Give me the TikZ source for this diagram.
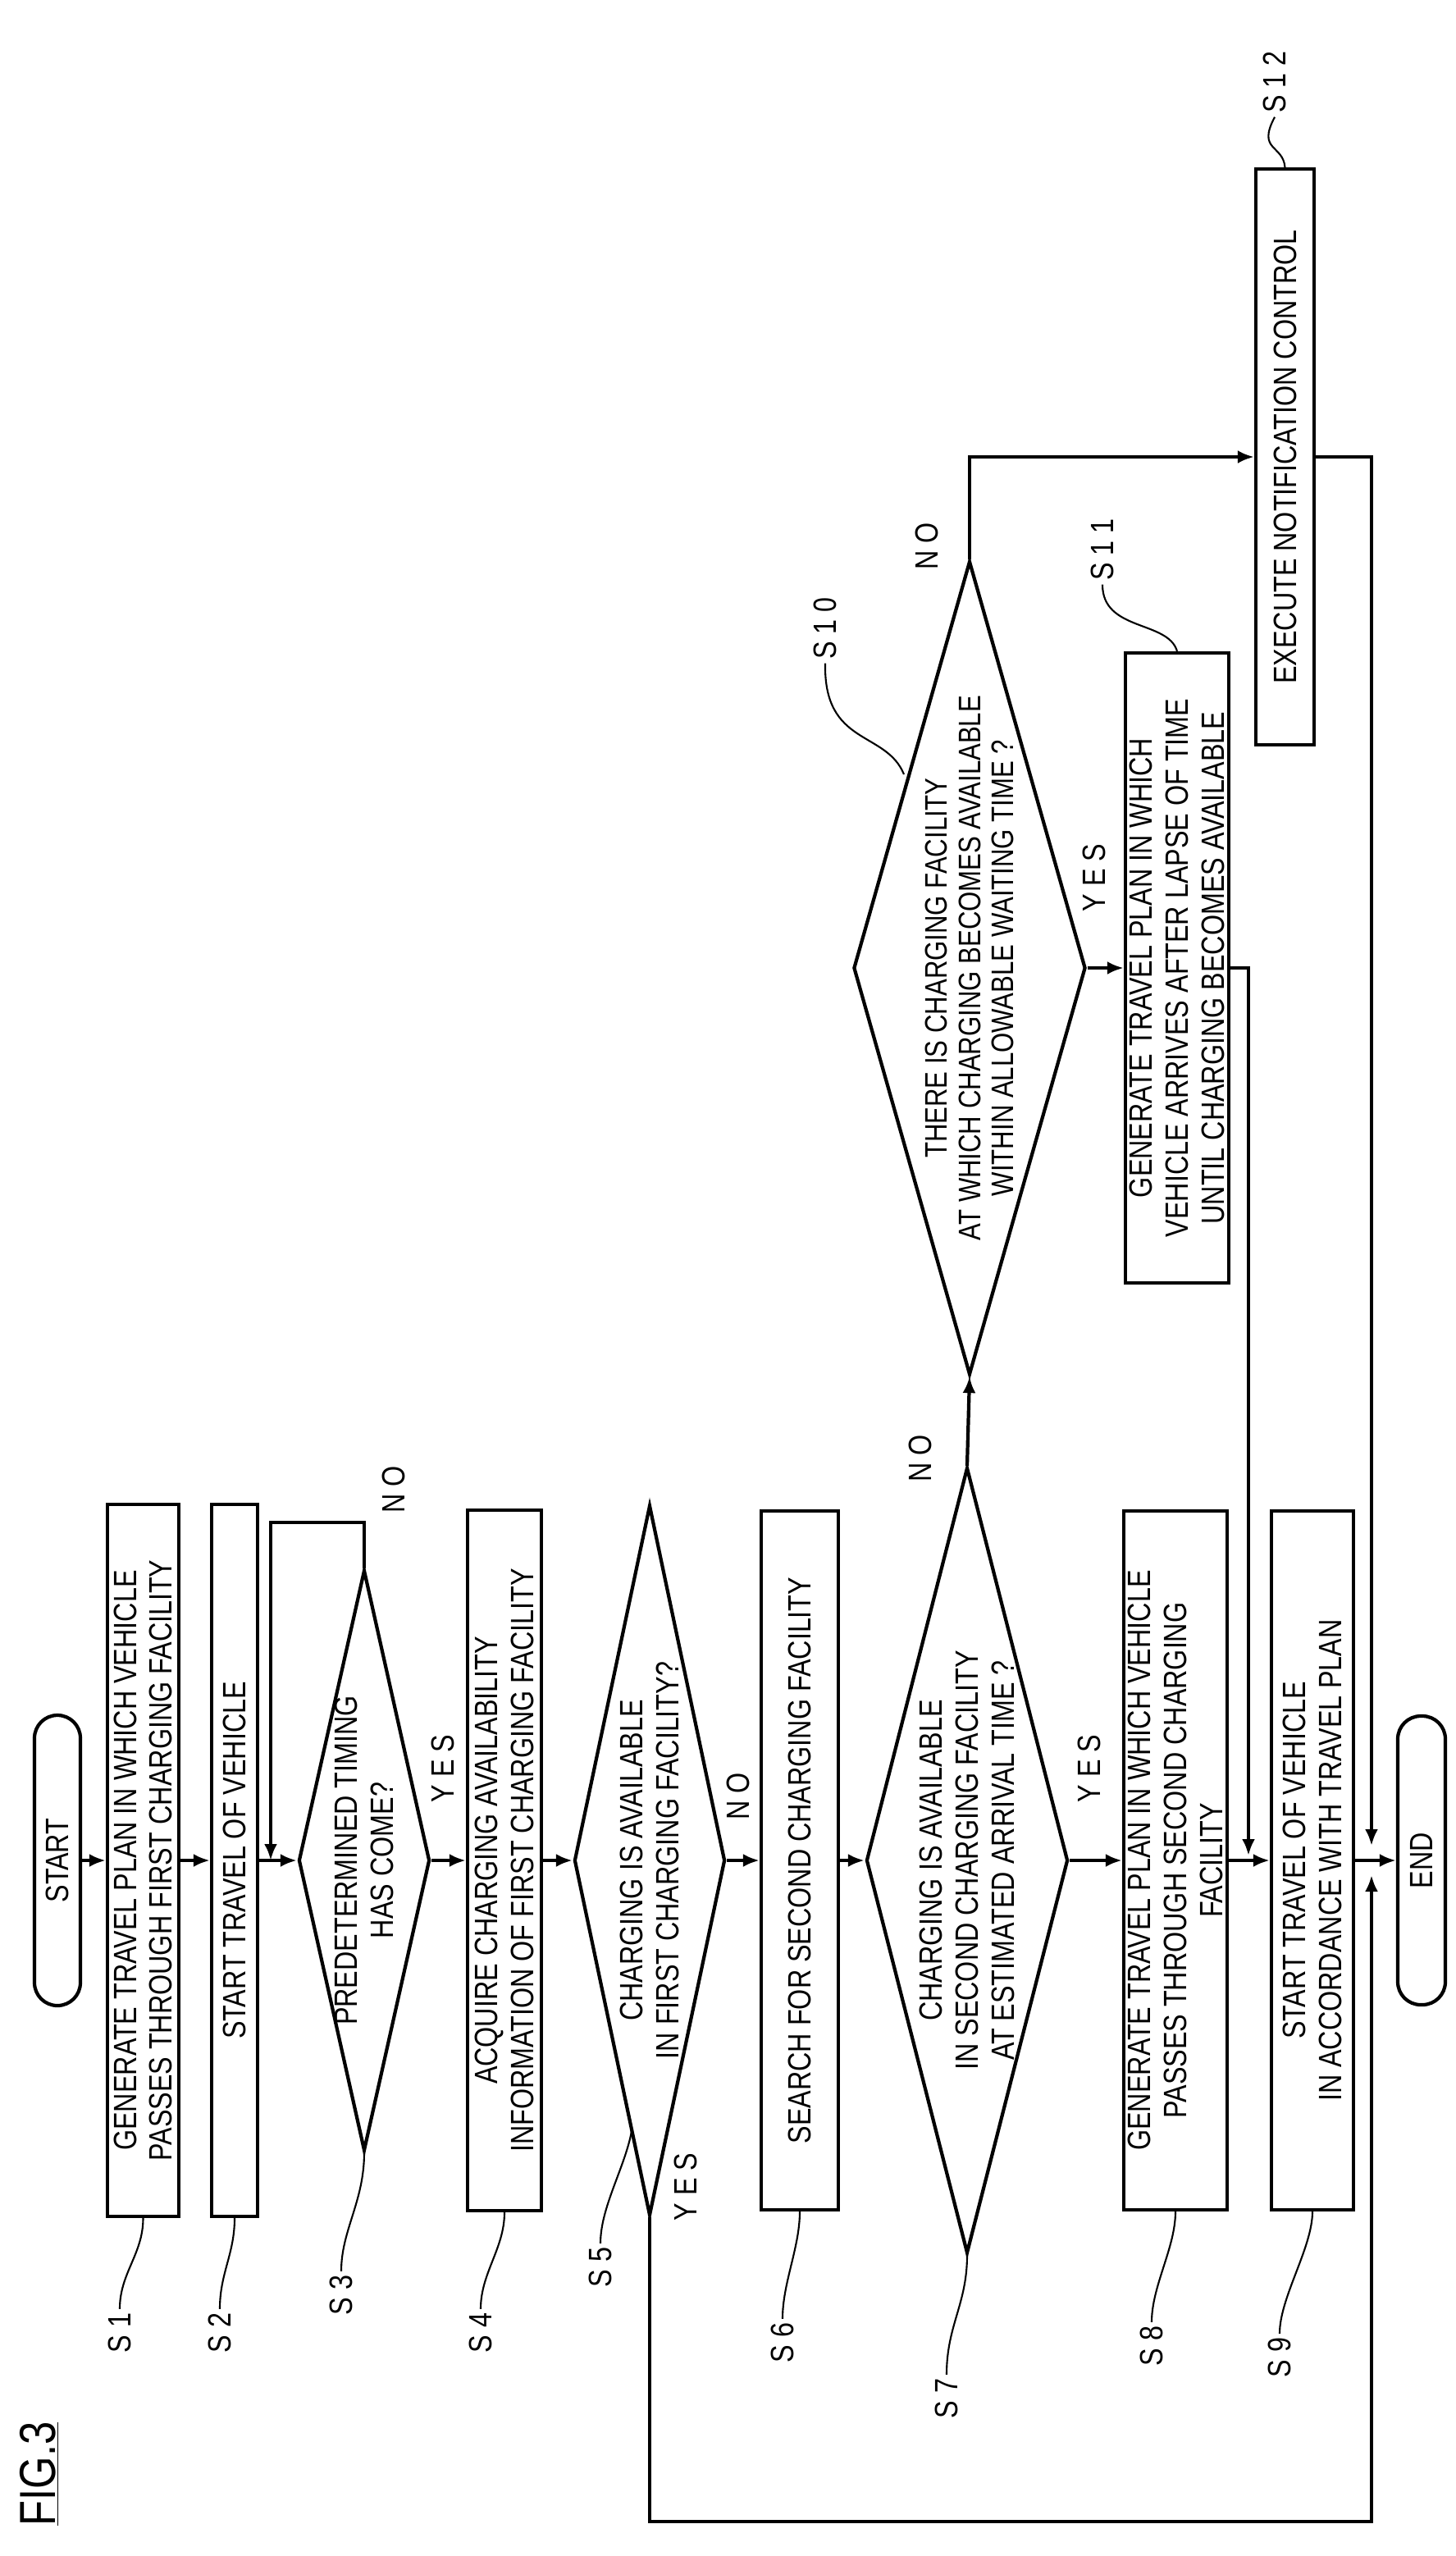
\documentclass[tikz,border=0pt]{standalone}
\usepackage{fontspec}
\setmainfont{Liberation Sans}[FakeStretch=0.82]
\usetikzlibrary{shapes.geometric,arrows.meta}
\newcommand\mainf{\fontsize{28}{31}\selectfont}
\newcommand\figf{\fontsize{44}{48}\selectfont}
\begin{document}
\begin{tikzpicture}[x=0.5mm,y=-0.5mm,
  box/.style={draw,line width=3pt,rotate=90,align=center,inner sep=0pt,font=\mainf},
  term/.style={box,rounded corners=7mm},
  diam/.style={draw,diamond,line width=3pt,inner sep=0pt},
  dtext/.style={rotate=90,align=center,font=\mainf},
  lab/.style={rotate=90,font=\mainf},
  arr/.style={line width=3pt,-{Latex[length=5mm,width=4mm]}},
  ln/.style={line width=3pt},
  leader/.style={line width=1.5pt}]
\useasboundingbox (0,0) rectangle (887.5,1558);
% title
\node[rotate=90,font=\figf] (fig) at (24,1508) {\underline{FIG.3}};
% nodes
\node[term,minimum width=88.5mm,minimum height=14mm] (start) at (35,1134) {START};
\node[box,minimum width=217mm,minimum height=21.75mm] (s1) at (87.25,1134) {GENERATE TRAVEL PLAN IN WHICH VEHICLE\\PASSES THROUGH FIRST CHARGING FACILITY};
\node[box,minimum width=217mm,minimum height=14mm] (s2) at (143,1134) {START TRAVEL OF VEHICLE};
\node[diam,minimum width=40mm,minimum height=177mm] (s3) at (222,1134) {};
\node[dtext] (t3) at (222,1134) {PREDETERMINED TIMING\\HAS COME?};
\node[box,minimum width=213.5mm,minimum height=22.5mm] (s4) at (307.5,1134) {ACQUIRE CHARGING AVAILABILITY\\INFORMATION OF FIRST CHARGING FACILITY};
\node[diam,minimum width=46mm,minimum height=216.5mm] (s5) at (396,1134) {};
\node[dtext] (t5) at (396,1134) {CHARGING IS AVAILABLE\\IN FIRST CHARGING FACILITY?};
\node[box,minimum width=213mm,minimum height=23.5mm] (s6) at (487.5,1134) {SEARCH FOR SECOND CHARGING FACILITY};
\node[diam,minimum width=61.5mm,minimum height=239.5mm] (s7) at (589.5,1134) {};
\node[dtext] (t7) at (589.5,1134) {CHARGING IS AVAILABLE\\IN SECOND CHARGING FACILITY\\AT ESTIMATED ARRIVAL TIME ?};
\node[box,minimum width=213mm,minimum height=31.5mm] (s8) at (716.5,1134) {GENERATE TRAVEL PLAN IN WHICH VEHICLE\\PASSES THROUGH SECOND CHARGING\\FACILITY};
\node[box,minimum width=213mm,minimum height=25mm] (s9) at (800,1134) {START TRAVEL OF VEHICLE\\IN ACCORDANCE WITH TRAVEL PLAN};
\node[term,minimum width=88mm,minimum height=14.5mm] (end) at (866.5,1134) {END};
\node[diam,minimum width=70.75mm,minimum height=248mm] (s10) at (591,590) {};
\node[dtext,font=\fontsize{27}{29}\selectfont] (t10) at (591,590) {THERE IS CHARGING FACILITY\\AT WHICH CHARGING BECOMES AVAILABLE\\WITHIN ALLOWABLE WAITING TIME ?};
\node[box,minimum width=192mm,minimum height=31.5mm] (s11) at (717.5,590) {GENERATE TRAVEL PLAN IN WHICH\\VEHICLE ARRIVES AFTER LAPSE OF TIME\\UNTIL CHARGING BECOMES AVAILABLE};
\node[box,minimum width=175.5mm,minimum height=17.75mm] (s12) at (783.25,278.5) {EXECUTE NOTIFICATION CONTROL};
% helper coordinates
\coordinate (l1) at (165,928);
\coordinate (b1) at (836,1537);
\coordinate (m1) at (836,1143);
\coordinate (m2) at (836,1125);
\coordinate (r11) at (761,1131);
% connectors
\draw[arr] (start.south) -- (s1.north);
\draw[arr] (s1.south) -- (s2.north);
\draw[arr] (s2.south) -- (s3.west);
\draw[arr] (s3.north) -- (s3.north |- l1) -- (l1) -- (l1 |- s2.south);
\draw[arr] (s3.east) -- (s4.north);
\draw[arr] (s4.south) -- (s5.west);
\draw[arr] (s5.east) -- (s6.north);
\draw[arr] (s6.south) -- (s7.west);
\draw[arr] (s7.east) -- (s8.north);
\draw[arr] (s8.south) -- (s9.north);
\draw[arr] (s9.south) -- (end.north);
\draw[arr] (s5.south) |- (b1) -- (m1);
\draw[arr] (s7.north) -- (s10.south);
\draw[arr] (s10.east) -- (s11.north);
\draw[arr] (s10.north) |- (s12.north);
\draw[arr] (s11.south) -| (r11);
\draw[arr] (s12.south) -| (m2);
% yes/no labels
\node[lab] (n3) at (240,908) {N O};
\node[lab] (y3) at (270,1078) {Y E S};
\node[lab] (n5) at (450,1095) {N O};
\node[lab] (y5) at (418,1333) {Y E S};
\node[lab] (n7) at (561,889) {N O};
\node[lab] (y7) at (664,1078) {Y E S};
\node[lab] (n10) at (565,333) {N O};
\node[lab] (y10) at (667,535) {Y E S};
% step labels
\node[lab] (ls1) at (73,1422) {S 1};
\node[lab] (ls2) at (134,1422) {S 2};
\node[lab] (ls3) at (208,1399) {S 3};
\node[lab] (ls4) at (293,1422) {S 4};
\node[lab] (ls5) at (366,1382) {S 5};
\node[lab] (ls6) at (477,1428) {S 6};
\node[lab] (ls7) at (577,1462) {S 7};
\node[lab] (ls8) at (702,1430) {S 8};
\node[lab] (ls9) at (780,1437) {S 9};
\node[lab] (ls10) at (503,383) {S 1 0};
\node[lab] (ls11) at (672,335) {S 1 1};
\node[lab] (ls12) at (777,50) {S 1 2};
% leaders
\draw[leader] (s1.west) .. controls +(0,22) and +(0,-22) .. (ls1.east);
\draw[leader] (s2.west) .. controls +(0,22) and +(0,-22) .. (ls2.east);
\draw[leader] (s3.south) .. controls +(0,30) and +(0,-25) .. (ls3.east);
\draw[leader] (s4.west) .. controls +(0,22) and +(0,-22) .. (ls4.east);
\draw[leader] (385,1299) .. controls +(-4,22) and +(0,-22) .. (ls5.east);
\draw[leader] (s6.west) .. controls +(0,22) and +(0,-22) .. (ls6.east);
\draw[leader] (s7.south) .. controls +(0,30) and +(0,-30) .. (ls7.east);
\draw[leader] (s8.west) .. controls +(0,22) and +(0,-22) .. (ls8.east);
\draw[leader] (s9.west) .. controls +(0,22) and +(0,-22) .. (ls9.east);
\draw[leader] (551,472) .. controls (540,445) and (502,455) .. (ls10.west);
\draw[leader] (s11.east) .. controls (712,378) and (672,385) .. (ls11.west);
\draw[leader] (s12.east) .. controls (782,88) and (766,92) .. (ls12.west);
\end{tikzpicture}
\end{document}
